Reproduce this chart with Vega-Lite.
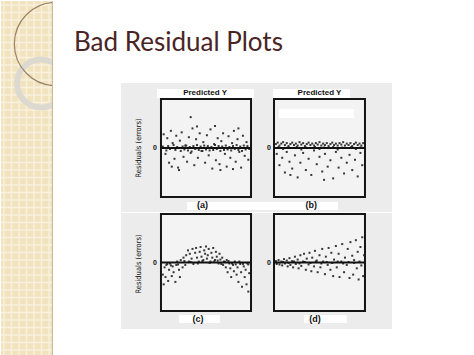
{
"$schema": "https://vega.github.io/schema/vega-lite/v6.json",
"padding": 0,
"background": "white",
"config": {"view": {"stroke": null}, "text": {"font": "Liberation Sans", "color": "#111111", "fill": "#111111"}},
"datasets": {
"a": [{"x":0.03,"y":0.28},{"x":0.05,"y":-0.12},{"x":0.07,"y":0.2},{"x":0.09,"y":-0.3},{"x":0.11,"y":0.35},{"x":0.13,"y":0.1},{"x":0.15,"y":-0.22},{"x":0.17,"y":0.25},{"x":0.19,"y":-0.4},{"x":0.21,"y":0.15},{"x":0.23,"y":0.32},{"x":0.25,"y":-0.18},{"x":0.27,"y":0.05},{"x":0.29,"y":-0.28},{"x":0.31,"y":0.22},{"x":0.33,"y":-0.1},{"x":0.35,"y":0.4},{"x":0.37,"y":-0.35},{"x":0.39,"y":0.18},{"x":0.41,"y":-0.2},{"x":0.43,"y":0.3},{"x":0.45,"y":-0.06},{"x":0.47,"y":0.12},{"x":0.49,"y":-0.3},{"x":0.51,"y":0.26},{"x":0.53,"y":-0.15},{"x":0.55,"y":0.38},{"x":0.57,"y":-0.42},{"x":0.59,"y":0.08},{"x":0.61,"y":-0.25},{"x":0.63,"y":0.2},{"x":0.65,"y":-0.33},{"x":0.67,"y":0.14},{"x":0.69,"y":0.3},{"x":0.71,"y":-0.12},{"x":0.73,"y":-0.38},{"x":0.75,"y":0.24},{"x":0.77,"y":-0.2},{"x":0.79,"y":0.1},{"x":0.81,"y":0.35},{"x":0.83,"y":-0.28},{"x":0.85,"y":0.18},{"x":0.87,"y":-0.08},{"x":0.89,"y":-0.4},{"x":0.91,"y":0.25},{"x":0.93,"y":-0.16},{"x":0.95,"y":0.12},{"x":0.97,"y":-0.24},{"x":0.2,"y":-0.45},{"x":0.4,"y":0.44},{"x":0.6,"y":0.45},{"x":0.8,"y":-0.43},{"x":0.12,"y":-0.38},{"x":0.66,"y":-0.45},{"x":0.86,"y":0.4},{"x":0.33,"y":0.63},
{"x":0.02,"y":0.03},{"x":0.06,"y":-0.05},{"x":0.08,"y":0.04},{"x":0.1,"y":-0.02},{"x":0.14,"y":0.06},{"x":0.16,"y":-0.04},{"x":0.18,"y":0.02},{"x":0.22,"y":-0.06},{"x":0.24,"y":0.03},{"x":0.26,"y":-0.03},{"x":0.28,"y":0.05},{"x":0.3,"y":-0.05},{"x":0.32,"y":0.02},{"x":0.34,"y":-0.07},{"x":0.36,"y":0.04},{"x":0.38,"y":-0.02},{"x":0.4,"y":0.06},{"x":0.42,"y":-0.04},{"x":0.44,"y":0.03},{"x":0.46,"y":-0.06},{"x":0.48,"y":0.05},{"x":0.5,"y":-0.03},{"x":0.52,"y":0.04},{"x":0.54,"y":-0.05},{"x":0.56,"y":0.02},{"x":0.58,"y":-0.04},{"x":0.6,"y":0.06},{"x":0.62,"y":-0.02},{"x":0.64,"y":0.04},{"x":0.66,"y":-0.06},{"x":0.68,"y":0.03},{"x":0.7,"y":-0.04},{"x":0.72,"y":0.05},{"x":0.74,"y":-0.03},{"x":0.76,"y":0.02},{"x":0.78,"y":-0.05},{"x":0.8,"y":0.04},{"x":0.82,"y":-0.02},{"x":0.84,"y":0.06},{"x":0.86,"y":-0.04},{"x":0.88,"y":0.03},{"x":0.9,"y":-0.06},{"x":0.92,"y":0.05},{"x":0.94,"y":-0.03},{"x":0.96,"y":0.04},{"x":0.98,"y":-0.02}],
"b": [{"x":0.02,"y":0.08},{"x":0.04,"y":0.11},{"x":0.06,"y":0.05},{"x":0.08,"y":0.09},{"x":0.1,"y":0.12},{"x":0.12,"y":0.06},{"x":0.14,"y":0.1},{"x":0.16,"y":0.04},{"x":0.18,"y":0.08},{"x":0.2,"y":0.11},{"x":0.22,"y":0.06},{"x":0.24,"y":0.09},{"x":0.26,"y":0.05},{"x":0.28,"y":0.12},{"x":0.3,"y":0.07},{"x":0.32,"y":0.1},{"x":0.34,"y":0.04},{"x":0.36,"y":0.08},{"x":0.38,"y":0.11},{"x":0.4,"y":0.06},{"x":0.42,"y":0.09},{"x":0.44,"y":0.05},{"x":0.46,"y":0.1},{"x":0.48,"y":0.07},{"x":0.5,"y":0.12},{"x":0.52,"y":0.05},{"x":0.54,"y":0.09},{"x":0.56,"y":0.06},{"x":0.58,"y":0.1},{"x":0.6,"y":0.04},{"x":0.62,"y":0.08},{"x":0.64,"y":0.11},{"x":0.66,"y":0.06},{"x":0.68,"y":0.09},{"x":0.7,"y":0.05},{"x":0.72,"y":0.1},{"x":0.74,"y":0.07},{"x":0.76,"y":0.12},{"x":0.78,"y":0.05},{"x":0.8,"y":0.09},{"x":0.82,"y":0.06},{"x":0.84,"y":0.1},{"x":0.86,"y":0.04},{"x":0.88,"y":0.08},{"x":0.9,"y":0.11},{"x":0.92,"y":0.06},{"x":0.94,"y":0.09},{"x":0.96,"y":0.05},{"x":0.98,"y":0.1},
{"x":0.05,"y":0.02},{"x":0.15,"y":0.01},{"x":0.25,"y":0.02},{"x":0.35,"y":0.01},{"x":0.45,"y":0.02},{"x":0.55,"y":0.01},{"x":0.65,"y":0.02},{"x":0.75,"y":0.01},{"x":0.85,"y":0.02},{"x":0.95,"y":0.01},
{"x":0.03,"y":-0.12},{"x":0.06,"y":-0.35},{"x":0.09,"y":-0.2},{"x":0.12,"y":-0.5},{"x":0.14,"y":-0.08},{"x":0.17,"y":-0.28},{"x":0.2,"y":-0.42},{"x":0.23,"y":-0.15},{"x":0.26,"y":-0.6},{"x":0.29,"y":-0.3},{"x":0.32,"y":-0.1},{"x":0.35,"y":-0.45},{"x":0.38,"y":-0.22},{"x":0.41,"y":-0.55},{"x":0.44,"y":-0.05},{"x":0.47,"y":-0.33},{"x":0.5,"y":-0.18},{"x":0.53,"y":-0.48},{"x":0.56,"y":-0.12},{"x":0.59,"y":-0.38},{"x":0.62,"y":-0.25},{"x":0.65,"y":-0.62},{"x":0.68,"y":-0.08},{"x":0.71,"y":-0.4},{"x":0.74,"y":-0.2},{"x":0.77,"y":-0.52},{"x":0.8,"y":-0.3},{"x":0.83,"y":-0.14},{"x":0.86,"y":-0.45},{"x":0.89,"y":-0.24},{"x":0.92,"y":-0.58},{"x":0.95,"y":-0.1},{"x":0.97,"y":-0.35},{"x":0.1,"y":-0.02},{"x":0.3,"y":-0.03},{"x":0.5,"y":-0.02},{"x":0.7,"y":-0.03},{"x":0.9,"y":-0.02},{"x":0.55,"y":-0.65},{"x":0.18,"y":-0.55}],
"c": [{"x":0.02,"y":-0.25},{"x":0.03,"y":-0.45},{"x":0.04,"y":-0.1},{"x":0.05,"y":-0.3},{"x":0.06,"y":-0.05},{"x":0.08,"y":-0.38},{"x":0.09,"y":-0.15},{"x":0.1,"y":-0.02},{"x":0.12,"y":-0.28},{"x":0.13,"y":-0.08},{"x":0.14,"y":-0.2},{"x":0.16,"y":-0.4},{"x":0.17,"y":-0.05},{"x":0.18,"y":0.02},{"x":0.2,"y":-0.15},{"x":0.21,"y":-0.3},{"x":0.22,"y":0.05},{"x":0.24,"y":-0.1},{"x":0.25,"y":0.1},{"x":0.27,"y":-0.05},{"x":0.28,"y":0.15},{"x":0.3,"y":0.25},{"x":0.31,"y":0.02},{"x":0.32,"y":0.18},{"x":0.34,"y":0.08},{"x":0.35,"y":0.28},{"x":0.36,"y":-0.03},{"x":0.38,"y":0.2},{"x":0.39,"y":0.3},{"x":0.4,"y":0.1},{"x":0.42,"y":0.02},{"x":0.43,"y":0.22},{"x":0.44,"y":0.32},{"x":0.45,"y":0.12},{"x":0.47,"y":0.05},{"x":0.48,"y":0.25},{"x":0.49,"y":0.18},{"x":0.5,"y":0.33},{"x":0.51,"y":0.08},{"x":0.52,"y":0.15},{"x":0.53,"y":0.28},{"x":0.55,"y":0.02},{"x":0.56,"y":0.2},{"x":0.57,"y":0.1},{"x":0.58,"y":0.3},{"x":0.6,"y":0.05},{"x":0.61,"y":0.22},{"x":0.62,"y":0.12},{"x":0.64,"y":-0.02},{"x":0.65,"y":0.18},{"x":0.66,"y":0.06},{"x":0.68,"y":0.1},{"x":0.69,"y":-0.05},{"x":0.7,"y":0.02},{"x":0.72,"y":-0.1},{"x":0.73,"y":0.05},{"x":0.74,"y":-0.2},{"x":0.76,"y":-0.02},{"x":0.77,"y":-0.12},{"x":0.78,"y":-0.3},{"x":0.8,"y":-0.05},{"x":0.81,"y":-0.18},{"x":0.82,"y":0.02},{"x":0.84,"y":-0.25},{"x":0.85,"y":-0.1},{"x":0.86,"y":-0.4},{"x":0.88,"y":-0.03},{"x":0.89,"y":-0.2},{"x":0.9,"y":-0.5},{"x":0.92,"y":-0.08},{"x":0.93,"y":-0.3},{"x":0.94,"y":-0.15},{"x":0.95,"y":-0.45},{"x":0.96,"y":-0.02},{"x":0.97,"y":-0.6},{"x":0.98,"y":-0.22},
{"x":0.07,"y":-0.03},{"x":0.11,"y":-0.06},{"x":0.19,"y":-0.04},{"x":0.26,"y":0.03},{"x":0.33,"y":0.01},{"x":0.41,"y":-0.02},{"x":0.46,"y":0.03},{"x":0.54,"y":-0.01},{"x":0.59,"y":0.02},{"x":0.63,"y":0.04},{"x":0.67,"y":-0.03},{"x":0.71,"y":0.01},{"x":0.75,"y":0.03},{"x":0.79,"y":-0.02},{"x":0.83,"y":-0.04},{"x":0.87,"y":0.02},{"x":0.91,"y":-0.03},{"x":0.97,"y":-0.04}],
"d": [{"x":0.02,"y":0.03},{"x":0.03,"y":-0.03},{"x":0.05,"y":0.05},{"x":0.06,"y":-0.04},{"x":0.08,"y":0.02},{"x":0.09,"y":-0.06},{"x":0.11,"y":0.07},{"x":0.12,"y":-0.02},{"x":0.14,"y":0.04},{"x":0.15,"y":-0.08},{"x":0.17,"y":0.09},{"x":0.18,"y":-0.05},{"x":0.2,"y":0.03},{"x":0.21,"y":-0.1},{"x":0.23,"y":0.12},{"x":0.24,"y":-0.03},{"x":0.26,"y":0.06},{"x":0.27,"y":-0.12},{"x":0.29,"y":0.15},{"x":0.3,"y":-0.07},{"x":0.32,"y":0.02},{"x":0.33,"y":0.18},{"x":0.35,"y":-0.15},{"x":0.36,"y":0.08},{"x":0.38,"y":-0.04},{"x":0.39,"y":0.2},{"x":0.41,"y":-0.18},{"x":0.42,"y":0.1},{"x":0.44,"y":-0.08},{"x":0.45,"y":0.24},{"x":0.47,"y":0.04},{"x":0.48,"y":-0.2},{"x":0.5,"y":0.15},{"x":0.51,"y":-0.1},{"x":0.53,"y":0.28},{"x":0.54,"y":0.02},{"x":0.56,"y":-0.24},{"x":0.57,"y":0.12},{"x":0.59,"y":-0.05},{"x":0.6,"y":0.3},{"x":0.62,"y":-0.15},{"x":0.63,"y":0.2},{"x":0.65,"y":-0.28},{"x":0.66,"y":0.06},{"x":0.68,"y":0.34},{"x":0.69,"y":-0.1},{"x":0.71,"y":0.18},{"x":0.72,"y":-0.3},{"x":0.74,"y":0.02},{"x":0.75,"y":0.38},{"x":0.77,"y":-0.2},{"x":0.78,"y":0.1},{"x":0.8,"y":-0.05},{"x":0.81,"y":0.28},{"x":0.83,"y":-0.32},{"x":0.84,"y":0.42},{"x":0.86,"y":0.14},{"x":0.87,"y":-0.25},{"x":0.88,"y":0.05},{"x":0.9,"y":0.46},{"x":0.91,"y":-0.12},{"x":0.92,"y":0.22},{"x":0.93,"y":-0.35},{"x":0.95,"y":0.32},{"x":0.96,"y":-0.06},{"x":0.97,"y":0.52},{"x":0.98,"y":-0.28},{"x":0.99,"y":0.15},
{"x":0.1,"y":0.01},{"x":0.16,"y":-0.01},{"x":0.22,"y":0.02},{"x":0.28,"y":-0.02},{"x":0.34,"y":0.01},{"x":0.4,"y":-0.01},{"x":0.46,"y":0.02},{"x":0.52,"y":-0.02},{"x":0.58,"y":0.01},{"x":0.64,"y":-0.01},{"x":0.7,"y":0.02},{"x":0.76,"y":-0.02},{"x":0.82,"y":0.01},{"x":0.88,"y":-0.01},{"x":0.94,"y":0.02}],
"vgrid": [{"v":3},{"v":10.5},{"v":18},{"v":25.5},{"v":33},{"v":40.5},{"v":48}],
"hgrid": [{"v":4},{"v":11.5},{"v":19},{"v":26.5},{"v":34},{"v":41.5},{"v":49},{"v":56.5},{"v":64},{"v":71.5},{"v":79},{"v":86.5},{"v":94},{"v":101.5},{"v":109},{"v":116.5},{"v":124},{"v":131.5},{"v":139},{"v":146.5},{"v":154},{"v":161.5},{"v":169},{"v":176.5},{"v":184},{"v":191.5},{"v":199},{"v":206.5},{"v":214},{"v":221.5},{"v":229},{"v":236.5},{"v":244},{"v":251.5},{"v":259},{"v":266.5},{"v":274},{"v":281.5},{"v":289},{"v":296.5},{"v":304},{"v":311.5},{"v":319},{"v":326.5},{"v":334},{"v":341.5},{"v":349}],
"circles": [{"cx":40,"cy":82.5,"kind":"ring"},{"cx":55,"cy":43,"kind":"arc"}]
},
"spacing": 20,
"hconcat": [
{
"width": 52, "height": 355,
"view": {"stroke": null},
"layer": [
{"data": {"values": [{}]}, "mark": {"type": "rect", "fill": "#f2e3bf"},
 "encoding": {"x": {"datum": 0, "type": "quantitative", "scale": {"domain": [0, 52], "nice": false, "zero": false}, "axis": null}, "x2": {"datum": 52},
   "y": {"datum": 0, "type": "quantitative", "scale": {"domain": [0, 355], "nice": false, "zero": false, "reverse": true}, "axis": null}, "y2": {"datum": 355}}},
{"data": {"name": "vgrid"}, "mark": {"type": "rule", "color": "#f9f1dd", "strokeWidth": 1.5},
 "encoding": {"x": {"field": "v", "type": "quantitative", "scale": {"domain": [0, 52], "nice": false, "zero": false}, "axis": null},
   "y": {"datum": 0, "type": "quantitative", "scale": {"domain": [0, 355], "nice": false, "zero": false, "reverse": true}, "axis": null}, "y2": {"datum": 355}}},
{"data": {"name": "hgrid"}, "mark": {"type": "rule", "color": "#f9f1dd", "strokeWidth": 1.5},
 "encoding": {"y": {"field": "v", "type": "quantitative", "scale": {"domain": [0, 355], "nice": false, "zero": false, "reverse": true}, "axis": null},
   "x": {"datum": 0, "type": "quantitative", "scale": {"domain": [0, 52], "nice": false, "zero": false}, "axis": null}, "x2": {"datum": 52}}},
{"data": {"name": "circles"}, "transform": [{"filter": "datum.kind == 'ring'"}],
 "mark": {"type": "point", "shape": "circle", "filled": false, "size": 2290, "stroke": "#dcd9d0", "strokeWidth": 6, "opacity": 1, "clip": true},
 "encoding": {"x": {"field": "cx", "type": "quantitative", "scale": {"domain": [0, 52], "nice": false, "zero": false}, "axis": null},
   "y": {"field": "cy", "type": "quantitative", "scale": {"domain": [0, 355], "nice": false, "zero": false, "reverse": true}, "axis": null}}},
{"data": {"name": "circles"}, "transform": [{"filter": "datum.kind == 'arc'"}],
 "mark": {"type": "point", "shape": "circle", "filled": false, "size": 6940, "stroke": "#9a8266", "strokeWidth": 1.2, "opacity": 1, "clip": true},
 "encoding": {"x": {"field": "cx", "type": "quantitative", "scale": {"domain": [0, 52], "nice": false, "zero": false}, "axis": null},
   "y": {"field": "cy", "type": "quantitative", "scale": {"domain": [0, 355], "nice": false, "zero": false, "reverse": true}, "axis": null}}},
{"data": {"values": [{}]}, "mark": {"type": "rule", "color": "#c9b994", "strokeWidth": 1},
 "encoding": {"x": {"datum": 51.5, "type": "quantitative", "scale": {"domain": [0, 52], "nice": false, "zero": false}, "axis": null},
   "y": {"datum": 0, "type": "quantitative", "scale": {"domain": [0, 355], "nice": false, "zero": false, "reverse": true}, "axis": null}, "y2": {"datum": 355}}}
]
},
{
"spacing": 0,
"vconcat": [
{
"width": 271, "height": 82,
"view": {"fill": null, "stroke": null},
"title": {"text": "Bad Residual Plots", "anchor": "start", "dx": -47, "offset": -55, "font": "Lato", "fontSize": 26, "fontWeight": "normal", "color": "#4a2424"},
"data": {"values": [{}]},
"mark": {"type": "rect", "opacity": 0},
"encoding": {}
},
{"spacing": 0, "hconcat": [
{
"width": 141, "height": 129,
"view": {"fill": "#ececec", "stroke": null},
"layer": [
{"data": {"values": [{}]}, "mark": {"type": "rect", "fill": "white"},
 "encoding": {"x": {"datum": -0.044, "type": "quantitative", "scale": {"domain": [-0.444, 1.122], "nice": false, "zero": false}, "axis": null}, "x2": {"datum": 1.033},
  "y": {"datum": 1.02, "type": "quantitative", "scale": {"domain": [-1.306, 1.3265], "nice": false, "zero": false}, "axis": null}, "y2": {"datum": 1.204}}},
{"data": {"values": [{}]}, "mark": {"type": "text", "text": "Predicted Y", "fontSize": 8, "fontWeight": "bold", "align": "center", "baseline": "middle", "fill": "#111"},
 "encoding": {"x": {"datum": 0.49, "type": "quantitative", "scale": {"domain": [-0.444, 1.122], "nice": false, "zero": false}, "axis": null},
  "y": {"datum": 1.12, "type": "quantitative", "scale": {"domain": [-1.306, 1.3265], "nice": false, "zero": false}, "axis": null}}},
{"data": {"values": [{}]}, "mark": {"type": "rect", "fill": "#f3f3f3", "stroke": "#151515", "strokeWidth": 2},
 "encoding": {"x": {"datum": 0, "type": "quantitative", "scale": {"domain": [-0.444, 1.122], "nice": false, "zero": false}, "axis": null}, "x2": {"datum": 1},
  "y": {"datum": -1, "type": "quantitative", "scale": {"domain": [-1.306, 1.3265], "nice": false, "zero": false}, "axis": null}, "y2": {"datum": 1}}},
{"data": {"name": "a"}, "mark": {"type": "point", "shape": "square", "filled": true, "size": 4, "color": "#222", "opacity": 0.9},
 "encoding": {"x": {"field": "x", "type": "quantitative", "scale": {"domain": [-0.444, 1.122], "nice": false, "zero": false}, "axis": null},
  "y": {"field": "y", "type": "quantitative", "scale": {"domain": [-1.306, 1.3265], "nice": false, "zero": false}, "axis": null}}},
{"data": {"values": [{}]}, "mark": {"type": "rule", "color": "#111", "strokeWidth": 1.8},
 "encoding": {"x": {"datum": 0, "type": "quantitative", "scale": {"domain": [-0.444, 1.122], "nice": false, "zero": false}, "axis": null}, "x2": {"datum": 1},
  "y": {"datum": 0, "type": "quantitative", "scale": {"domain": [-1.306, 1.3265], "nice": false, "zero": false}, "axis": null}}},
{"data": {"values": [{}]}, "mark": {"type": "text", "text": "0", "fontSize": 7, "fontWeight": "bold", "align": "center", "baseline": "middle", "fill": "#111"},
 "encoding": {"x": {"datum": -0.067, "type": "quantitative", "scale": {"domain": [-0.444, 1.122], "nice": false, "zero": false}, "axis": null},
  "y": {"datum": 0, "type": "quantitative", "scale": {"domain": [-1.306, 1.3265], "nice": false, "zero": false}, "axis": null}}},
{"data": {"values": [{}]}, "mark": {"type": "text", "text": "Residuals (errors)", "font": "DejaVu Sans Condensed, Liberation Sans, sans-serif", "fontSize": 7.5, "angle": 270, "align": "center", "baseline": "middle", "fill": "#111"},
 "encoding": {"x": {"datum": -0.244, "type": "quantitative", "scale": {"domain": [-0.444, 1.122], "nice": false, "zero": false}, "axis": null},
  "y": {"datum": 0, "type": "quantitative", "scale": {"domain": [-1.306, 1.3265], "nice": false, "zero": false}, "axis": null}}},
{"data": {"values": [{}]}, "mark": {"type": "rect", "fill": "white"},
 "encoding": {"x": {"datum": 0.289, "type": "quantitative", "scale": {"domain": [-0.444, 1.122], "nice": false, "zero": false}, "axis": null}, "x2": {"datum": 1.122},
  "y": {"datum": -1.102, "type": "quantitative", "scale": {"domain": [-1.306, 1.3265], "nice": false, "zero": false}, "axis": null}, "y2": {"datum": -1.265}}},
{"data": {"values": [{}]}, "mark": {"type": "text", "text": "(a)", "fontSize": 9, "fontWeight": "bold", "align": "center", "baseline": "middle", "fill": "#111"},
 "encoding": {"x": {"datum": 0.46, "type": "quantitative", "scale": {"domain": [-0.444, 1.122], "nice": false, "zero": false}, "axis": null},
  "y": {"datum": -1.17, "type": "quantitative", "scale": {"domain": [-1.306, 1.3265], "nice": false, "zero": false}, "axis": null}}}
]
},
{
"width": 130, "height": 129,
"view": {"fill": "#ececec", "stroke": null},
"layer": [
{"data": {"values": [{}]}, "mark": {"type": "rect", "fill": "white"},
 "encoding": {"x": {"datum": -0.01, "type": "quantitative", "scale": {"domain": [-0.132, 1.297], "nice": false, "zero": false}, "axis": null}, "x2": {"datum": 0.835},
  "y": {"datum": 1.02, "type": "quantitative", "scale": {"domain": [-1.306, 1.3265], "nice": false, "zero": false}, "axis": null}, "y2": {"datum": 1.204}}},
{"data": {"values": [{}]}, "mark": {"type": "text", "text": "Predicted Y", "fontSize": 8, "fontWeight": "bold", "align": "center", "baseline": "middle", "fill": "#111"},
 "encoding": {"x": {"datum": 0.5, "type": "quantitative", "scale": {"domain": [-0.132, 1.297], "nice": false, "zero": false}, "axis": null},
  "y": {"datum": 1.12, "type": "quantitative", "scale": {"domain": [-1.306, 1.3265], "nice": false, "zero": false}, "axis": null}}},
{"data": {"values": [{}]}, "mark": {"type": "rect", "fill": "#f3f3f3", "stroke": "#151515", "strokeWidth": 2},
 "encoding": {"x": {"datum": 0, "type": "quantitative", "scale": {"domain": [-0.132, 1.297], "nice": false, "zero": false}, "axis": null}, "x2": {"datum": 1},
  "y": {"datum": -1, "type": "quantitative", "scale": {"domain": [-1.306, 1.3265], "nice": false, "zero": false}, "axis": null}, "y2": {"datum": 1}}},
{"data": {"values": [{}]}, "mark": {"type": "rect", "fill": "white"},
 "encoding": {"x": {"datum": 0.055, "type": "quantitative", "scale": {"domain": [-0.132, 1.297], "nice": false, "zero": false}, "axis": null}, "x2": {"datum": 0.88},
  "y": {"datum": 0.612, "type": "quantitative", "scale": {"domain": [-1.306, 1.3265], "nice": false, "zero": false}, "axis": null}, "y2": {"datum": 0.796}}},
{"data": {"name": "b"}, "mark": {"type": "point", "shape": "square", "filled": true, "size": 4, "color": "#222", "opacity": 0.9},
 "encoding": {"x": {"field": "x", "type": "quantitative", "scale": {"domain": [-0.132, 1.297], "nice": false, "zero": false}, "axis": null},
  "y": {"field": "y", "type": "quantitative", "scale": {"domain": [-1.306, 1.3265], "nice": false, "zero": false}, "axis": null}}},
{"data": {"values": [{}]}, "mark": {"type": "rule", "color": "#111", "strokeWidth": 1.8},
 "encoding": {"x": {"datum": 0, "type": "quantitative", "scale": {"domain": [-0.132, 1.297], "nice": false, "zero": false}, "axis": null}, "x2": {"datum": 1},
  "y": {"datum": 0, "type": "quantitative", "scale": {"domain": [-1.306, 1.3265], "nice": false, "zero": false}, "axis": null}}},
{"data": {"values": [{}]}, "mark": {"type": "text", "text": "0", "fontSize": 7, "fontWeight": "bold", "align": "center", "baseline": "middle", "fill": "#111"},
 "encoding": {"x": {"datum": -0.055, "type": "quantitative", "scale": {"domain": [-0.132, 1.297], "nice": false, "zero": false}, "axis": null},
  "y": {"datum": 0, "type": "quantitative", "scale": {"domain": [-1.306, 1.3265], "nice": false, "zero": false}, "axis": null}}},
{"data": {"values": [{}]}, "mark": {"type": "rect", "fill": "white"},
 "encoding": {"x": {"datum": -0.132, "type": "quantitative", "scale": {"domain": [-0.132, 1.297], "nice": false, "zero": false}, "axis": null}, "x2": {"datum": 0.703},
  "y": {"datum": -1.102, "type": "quantitative", "scale": {"domain": [-1.306, 1.3265], "nice": false, "zero": false}, "axis": null}, "y2": {"datum": -1.265}}},
{"data": {"values": [{}]}, "mark": {"type": "text", "text": "(b)", "fontSize": 9, "fontWeight": "bold", "align": "center", "baseline": "middle", "fill": "#111"},
 "encoding": {"x": {"datum": 0.41, "type": "quantitative", "scale": {"domain": [-0.132, 1.297], "nice": false, "zero": false}, "axis": null},
  "y": {"datum": -1.17, "type": "quantitative", "scale": {"domain": [-1.306, 1.3265], "nice": false, "zero": false}, "axis": null}}}
]
}
]},
{"spacing": 0, "hconcat": [
{
"width": 141, "height": 116,
"view": {"fill": "#ececec", "stroke": null},
"layer": [
{"data": {"values": [{}]}, "mark": {"type": "rect", "fill": "#f3f3f3", "stroke": "#151515", "strokeWidth": 2},
 "encoding": {"x": {"datum": 0, "type": "quantitative", "scale": {"domain": [-0.444, 1.122], "nice": false, "zero": false}, "axis": null}, "x2": {"datum": 1},
  "y": {"datum": -1, "type": "quantitative", "scale": {"domain": [-1.371, 1.0206], "nice": false, "zero": false}, "axis": null}, "y2": {"datum": 1}}},
{"data": {"name": "c"}, "mark": {"type": "point", "shape": "square", "filled": true, "size": 4, "color": "#222", "opacity": 0.9},
 "encoding": {"x": {"field": "x", "type": "quantitative", "scale": {"domain": [-0.444, 1.122], "nice": false, "zero": false}, "axis": null},
  "y": {"field": "y", "type": "quantitative", "scale": {"domain": [-1.371, 1.0206], "nice": false, "zero": false}, "axis": null}}},
{"data": {"values": [{}]}, "mark": {"type": "rule", "color": "#111", "strokeWidth": 1.8},
 "encoding": {"x": {"datum": 0, "type": "quantitative", "scale": {"domain": [-0.444, 1.122], "nice": false, "zero": false}, "axis": null}, "x2": {"datum": 1},
  "y": {"datum": 0, "type": "quantitative", "scale": {"domain": [-1.371, 1.0206], "nice": false, "zero": false}, "axis": null}}},
{"data": {"values": [{}]}, "mark": {"type": "text", "text": "0", "fontSize": 7, "fontWeight": "bold", "align": "center", "baseline": "middle", "fill": "#111"},
 "encoding": {"x": {"datum": -0.067, "type": "quantitative", "scale": {"domain": [-0.444, 1.122], "nice": false, "zero": false}, "axis": null},
  "y": {"datum": 0, "type": "quantitative", "scale": {"domain": [-1.371, 1.0206], "nice": false, "zero": false}, "axis": null}}},
{"data": {"values": [{}]}, "mark": {"type": "text", "text": "Residuals (errors)", "font": "DejaVu Sans Condensed, Liberation Sans, sans-serif", "fontSize": 7.5, "angle": 270, "align": "center", "baseline": "middle", "fill": "#111"},
 "encoding": {"x": {"datum": -0.244, "type": "quantitative", "scale": {"domain": [-0.444, 1.122], "nice": false, "zero": false}, "axis": null},
  "y": {"datum": -0.03, "type": "quantitative", "scale": {"domain": [-1.371, 1.0206], "nice": false, "zero": false}, "axis": null}}},
{"data": {"values": [{}]}, "mark": {"type": "rect", "fill": "white"},
 "encoding": {"x": {"datum": 0.2, "type": "quantitative", "scale": {"domain": [-0.444, 1.122], "nice": false, "zero": false}, "axis": null}, "x2": {"datum": 0.656},
  "y": {"datum": -1.082, "type": "quantitative", "scale": {"domain": [-1.371, 1.0206], "nice": false, "zero": false}, "axis": null}, "y2": {"datum": -1.247}}},
{"data": {"values": [{}]}, "mark": {"type": "text", "text": "(c)", "fontSize": 9, "fontWeight": "bold", "align": "center", "baseline": "middle", "fill": "#111"},
 "encoding": {"x": {"datum": 0.41, "type": "quantitative", "scale": {"domain": [-0.444, 1.122], "nice": false, "zero": false}, "axis": null},
  "y": {"datum": -1.165, "type": "quantitative", "scale": {"domain": [-1.371, 1.0206], "nice": false, "zero": false}, "axis": null}}}
]
},
{
"width": 130, "height": 116,
"view": {"fill": "#ececec", "stroke": null},
"layer": [
{"data": {"values": [{}]}, "mark": {"type": "rect", "fill": "#f3f3f3", "stroke": "#151515", "strokeWidth": 2},
 "encoding": {"x": {"datum": 0, "type": "quantitative", "scale": {"domain": [-0.132, 1.297], "nice": false, "zero": false}, "axis": null}, "x2": {"datum": 1},
  "y": {"datum": -1, "type": "quantitative", "scale": {"domain": [-1.371, 1.0206], "nice": false, "zero": false}, "axis": null}, "y2": {"datum": 1}}},
{"data": {"name": "d"}, "mark": {"type": "point", "shape": "square", "filled": true, "size": 4, "color": "#222", "opacity": 0.9},
 "encoding": {"x": {"field": "x", "type": "quantitative", "scale": {"domain": [-0.132, 1.297], "nice": false, "zero": false}, "axis": null},
  "y": {"field": "y", "type": "quantitative", "scale": {"domain": [-1.371, 1.0206], "nice": false, "zero": false}, "axis": null}}},
{"data": {"values": [{}]}, "mark": {"type": "rule", "color": "#111", "strokeWidth": 1.8},
 "encoding": {"x": {"datum": 0, "type": "quantitative", "scale": {"domain": [-0.132, 1.297], "nice": false, "zero": false}, "axis": null}, "x2": {"datum": 1},
  "y": {"datum": 0, "type": "quantitative", "scale": {"domain": [-1.371, 1.0206], "nice": false, "zero": false}, "axis": null}}},
{"data": {"values": [{}]}, "mark": {"type": "text", "text": "0", "fontSize": 7, "fontWeight": "bold", "align": "center", "baseline": "middle", "fill": "#111"},
 "encoding": {"x": {"datum": -0.055, "type": "quantitative", "scale": {"domain": [-0.132, 1.297], "nice": false, "zero": false}, "axis": null},
  "y": {"datum": 0, "type": "quantitative", "scale": {"domain": [-1.371, 1.0206], "nice": false, "zero": false}, "axis": null}}},
{"data": {"values": [{}]}, "mark": {"type": "rect", "fill": "white"},
 "encoding": {"x": {"datum": 0.33, "type": "quantitative", "scale": {"domain": [-0.132, 1.297], "nice": false, "zero": false}, "axis": null}, "x2": {"datum": 0.8},
  "y": {"datum": -1.082, "type": "quantitative", "scale": {"domain": [-1.371, 1.0206], "nice": false, "zero": false}, "axis": null}, "y2": {"datum": -1.247}}},
{"data": {"values": [{}]}, "mark": {"type": "text", "text": "(d)", "fontSize": 9, "fontWeight": "bold", "align": "center", "baseline": "middle", "fill": "#111"},
 "encoding": {"x": {"datum": 0.45, "type": "quantitative", "scale": {"domain": [-0.132, 1.297], "nice": false, "zero": false}, "axis": null},
  "y": {"datum": -1.165, "type": "quantitative", "scale": {"domain": [-1.371, 1.0206], "nice": false, "zero": false}, "axis": null}}}
]
}
]}
]
}
]
}
